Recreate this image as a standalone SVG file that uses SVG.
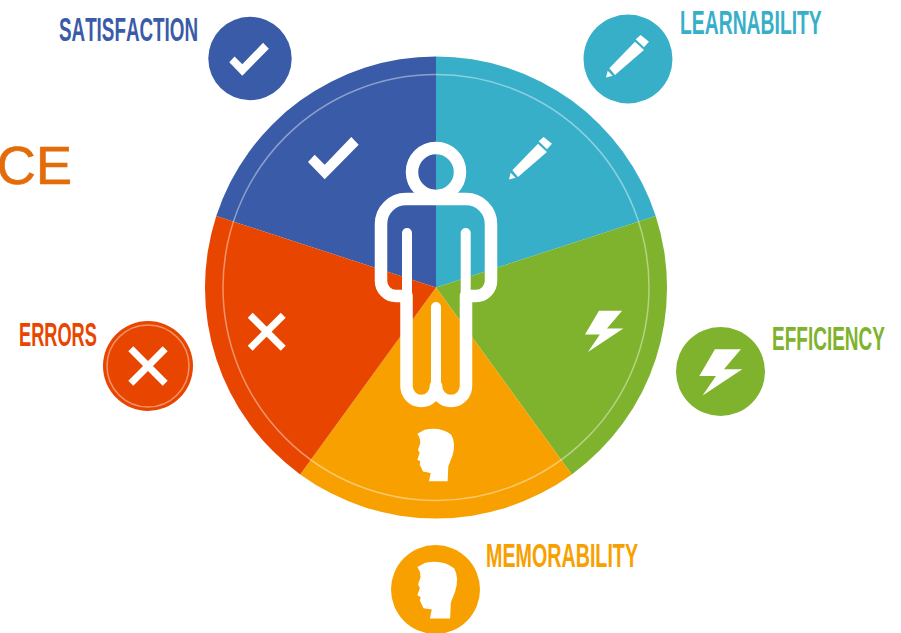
<svg xmlns="http://www.w3.org/2000/svg" width="901" height="633" viewBox="0 0 901 633">
<style>
.lbl{font-family:"Liberation Sans",Arial,sans-serif;font-weight:700;font-size:32.5px;font-kerning:none}
.ic{fill:#fff}
.x{stroke:#fff;stroke-width:7;fill:none}
.ring{fill:none;stroke:#fff;stroke-opacity:.42;stroke-width:1.5}
.blue{fill:#3a5ba7}.teal{fill:#38afc8}.green{fill:#7fb32d}.amber{fill:#f7a000}.red{fill:#e84600}
</style>
<defs>
<polygon id="check" points="0,25 6.700,17.700 16.700,27.700 43.300,0 50.700,7.700 16.700,42.300"/>
<g id="pencil"><polygon points="10,100 87,20 114,45 27,120"/><polygon points="104,0 129,20 114,37 89,13"/><polygon points="0,128 5,107 20,122"/></g>
<polygon id="bolt" points="47,0 125,0 74,60 129,60 10,139 50,80 0,80"/>
<path id="head" d="M1,17 L23,5 Q70,-5 103,20 Q118,45 106,85 L94,115 L92,160 L36,160 L41,135 L18,131 L13,120 L8,110 L10,100 L1,95 L8,75 L3,65 L10,45 L8,30Z"/>
</defs>
<rect width="901" height="633" fill="#fff"/>
<text x="-3.500" y="184" font-family="'Liberation Sans',Arial,sans-serif" font-size="54.500" fill="#e36c0a" stroke="#e36c0a" stroke-width=".6">CE</text>
<g id="pie">
<path class="blue" d="M436 287.500V56.500A231 231 0 0 0 216.300 216.100Z"/>
<path class="teal" d="M436 287.500V56.500A231 231 0 0 1 655.700 216.100Z"/>
<path class="green" d="M436 287.500L655.700 216.100A231 231 0 0 1 571.800 474.400Z"/>
<path class="amber" d="M436 287.500L571.800 474.400A231 231 0 0 1 300.200 474.400Z"/>
<path class="red" d="M436 287.500L300.200 474.400A231 231 0 0 1 216.300 216.100Z"/>
<circle class="ring" cx="436" cy="287.500" r="213"/>
<use href="#check" class="ic" transform="translate(308 137)"/>
<use href="#pencil" class="ic" transform="translate(509 137) scale(.333)"/>
<use href="#bolt" class="ic" transform="translate(585 310.700) scale(.297)"/>
<use href="#head" class="ic" transform="translate(417 428) scale(.333)"/>
<path class="x" d="M250.200 315.200L283.200 348.200M283.200 315.200L250.200 348.200"/>
</g>
<g id="person" fill="none" stroke="#fff" stroke-linecap="round" stroke-linejoin="round">
<circle cx="436" cy="172" r="24" stroke-width="12.500"/>
<path stroke-width="10" d="M407 233V300M465.700 233V300M436 307V390"/>
<path stroke-width="12.500" d="M406.500 296V386A14.750 15 0 0 0 436 386A15 15 0 0 0 466 386V296M406 296H396A15 15 0 0 1 381 281V224A25 25 0 0 1 406 199H466A25 25 0 0 1 491 224V281A15 15 0 0 1 476 296H466"/>
</g>
<g id="satisfaction">
<circle class="blue" cx="250" cy="58.500" r="41.700"/>
<use href="#check" class="ic" transform="translate(229.300 42.700) scale(.78)"/>
<text class="lbl blue" transform="translate(59 41) scale(.579 1)">SATISFACTION</text>
</g>
<g id="learnability">
<circle class="teal" cx="628" cy="59" r="44.500"/>
<use href="#pencil" class="ic" transform="translate(606 35) scale(.333)"/>
<text class="lbl teal" transform="translate(680 34) scale(.595 1)">LEARNABILITY</text>
</g>
<g id="efficiency">
<circle class="green" cx="720.500" cy="371.500" r="44.500"/>
<use href="#bolt" class="ic" transform="translate(699.300 349.300) scale(.333)"/>
<text class="lbl green" transform="translate(772 350) scale(.585 1)">EFFICIENCY</text>
</g>
<g id="errors">
<circle class="red" cx="148" cy="366" r="45"/>
<circle class="ring" cx="148" cy="366" r="41"/>
<path class="x" d="M130.800 348.800L165.200 383.200M165.200 348.800L130.800 383.200"/>
<text class="lbl red" transform="translate(19 346) scale(.56 1)">ERRORS</text>
</g>
<g id="memorability">
<circle class="amber" cx="435.500" cy="589.500" r="44.500"/>
<use href="#head" class="ic" transform="translate(417 561) scale(.36)"/>
<text class="lbl amber" transform="translate(486 567) scale(.606 1)">MEMORABILITY</text>
</g>
<g id="connectors"/>
</svg>
